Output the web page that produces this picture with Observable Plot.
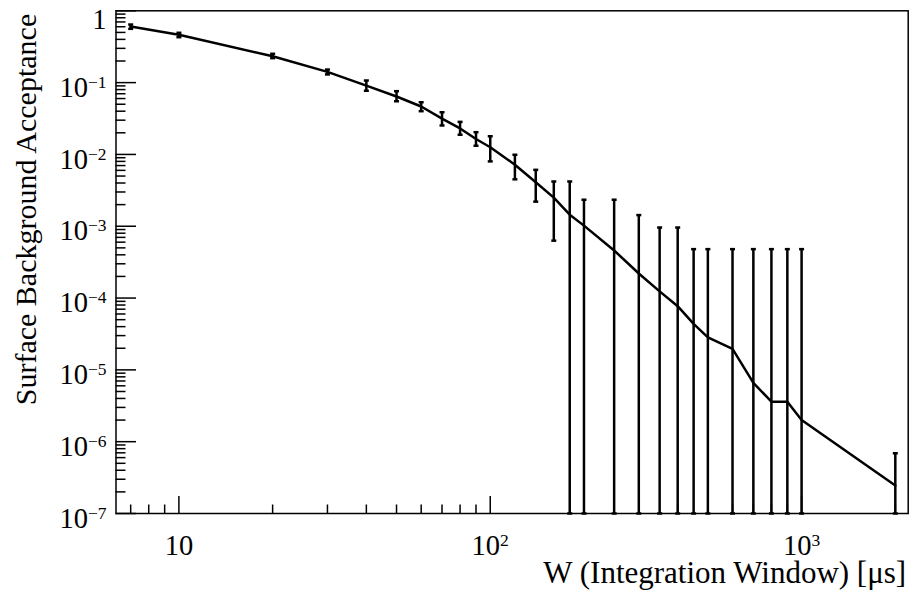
<!DOCTYPE html>
<html><head><meta charset="utf-8">
<script src="https://cdn.jsdelivr.net/npm/d3@7"></script>
<script src="https://cdn.jsdelivr.net/npm/@observablehq/plot@0.6"></script>
<style>body{margin:0;background:#fff}</style>
</head><body><div id="chart"></div>
<script>
// Integration window W [µs]
const windows = [7,10,20,30,40,50,60,70,80,90,100,120,140,160,180,200,250,300,350,400,450,500,600,700,800,900,1000,2000];
// Surface background acceptance
const acceptance = [0.604,0.463,0.233,0.141,0.091,0.064,0.0465,0.0316,0.023,0.0164,0.0126,0.0072,0.0041,0.0025,0.00145,0.00102,0.00046,0.00022,0.000124,0.000077,0.0000437,0.0000284,0.0000196,0.0000066,0.0000036,0.0000036,0.0000020,0.000000245];
// upper end of error bar
const errUpper = [0.644,0.494,0.252,0.152,0.107,0.076,0.0533,0.0387,0.0284,0.0204,0.0179,0.0099,0.0061,0.0042,0.0042,0.00234,0.00234,0.00143,0.00096,0.00096,0.00048,0.00048,0.00048,0.00048,0.00048,0.00048,0.00048,0.00000069];
// lower end of error bar (0 = below the axis)
const errLower = [0.561,0.429,0.219,0.130,0.077,0.055,0.040,0.0253,0.0188,0.0132,0.0080,0.0045,0.0022,0.00063,0,0,0,0,0,0,0,0,0,0,0,0,0,0];

const xDomain = [6.28, 2200];
const yDomain = [1e-7, 1];
const xTicks = [10, 100, 1000];
const xTickLabels = ["10", "10^{2}", "10^{3}"];
const xMinor = [7,8,9,20,30,40,50,60,70,80,90,200,300,400,500,600,700,800,900,2000];
const yTicks = [1e-7,1e-6,1e-5,1e-4,1e-3,1e-2,1e-1];
const yTickLabels = ["10^{−7}","10^{−6}","10^{−5}","10^{−4}","10^{−3}","10^{−2}","10^{−1}"];
const yTop = [1];
const yTopLabel = ["1"];
const yMinor = [];
for (let e = -7; e < 0; e++) for (let k = 2; k <= 9; k++) yMinor.push(k * Math.pow(10, e));
const xTitle = "W (Integration Window) [μs]";
const yTitle = "Surface Background Acceptance";

const data = windows.map((w, i) => ({
  w, a: acceptance[i], hi: errUpper[i], lo: Math.max(errLower[i], yDomain[0])
}));

const xLab = new Map(xTicks.map((v, i) => [v, xTickLabels[i]]));
const yLab = new Map(yTicks.map((v, i) => [v, yTickLabels[i]]));
const cap = {draw(ctx) { ctx.moveTo(-2.5, 0); ctx.lineTo(2.5, 0); }};
const blank = () => "";

const chart = Plot.plot({
  width: 911, height: 594,
  marginLeft: 115.5, marginRight: 3.3, marginTop: 10.3, marginBottom: 81,
  style: {fontFamily: "'Liberation Serif', 'Times New Roman', serif", fontSize: "28px", background: "#fff", color: "#000"},
  x: {type: "log", domain: xDomain, label: null},
  y: {type: "log", domain: yDomain, label: null},
  marks: [
    Plot.frame({stroke: "#000", strokeWidth: 1.5}),
    // inward ticks
    Plot.axisX({ticks: xTicks, tickSize: -17, tickFormat: blank, strokeWidth: 1.5, label: null}),
    Plot.axisX({ticks: xMinor, tickSize: -8.5, tickFormat: blank, strokeWidth: 1.5, label: null}),
    Plot.axisY({ticks: [...yTicks, 1], tickSize: -20.5, tickFormat: blank, strokeWidth: 1.5, label: null}),
    Plot.axisY({ticks: yMinor, tickSize: -10, tickFormat: blank, strokeWidth: 1.5, label: null}),
    // tick labels
    Plot.axisX({ticks: xTicks, tickSize: 0, tickPadding: 21, tickFormat: d => xLab.get(d), fontSize: 28.5, label: null}),
    Plot.axisY({ticks: yTicks, tickSize: 0, tickPadding: 9.5, dy: 5, tickFormat: d => yLab.get(d), fontSize: 28.5, label: null}),
    Plot.axisY({ticks: yTop, tickSize: 0, tickPadding: 9.5, dy: 9, tickFormat: (d) => yTopLabel[0], fontSize: 28.5, label: null}),
    // titles
    Plot.text([xTitle], {frameAnchor: "bottom-right", text: d => d, textAnchor: "end", dx: -2, dy: 69, fontSize: 31}),
    Plot.text([yTitle], {frameAnchor: "top-left", text: d => d, rotate: -90, textAnchor: "end", dx: -101, dy: 3, fontSize: 30}),
    // error bars
    Plot.ruleX(data, {x: "w", y1: "lo", y2: "hi", stroke: "#000", strokeWidth: 2.5}),
    Plot.dot(data, {x: "w", y: "hi", symbol: cap, stroke: "#000", fill: "none", strokeWidth: 2.5}),
    Plot.dot(data, {x: "w", y: "lo", symbol: cap, stroke: "#000", fill: "none", strokeWidth: 2.5}),
    // curve
    Plot.line(data, {x: "w", y: "a", stroke: "#000", strokeWidth: 2.5})
  ]
});

// render "10^{n}" labels as superscripts
const ns = "http://www.w3.org/2000/svg";
chart.querySelectorAll("text").forEach(t => {
  const s = t.textContent;
  const m = s.match(/^(.*)\^\{(.*)\}$/);
  if (!m) return;
  while (t.firstChild) t.removeChild(t.firstChild);
  const base = document.createElementNS(ns, "tspan");
  base.textContent = m[1];
  const sup = document.createElementNS(ns, "tspan");
  sup.textContent = m[2];
  sup.setAttribute("font-size", "17.5");
  sup.setAttribute("dy", "-9");
  t.appendChild(base);
  t.appendChild(sup);
});

document.getElementById("chart").appendChild(chart);
</script>
</body></html>
